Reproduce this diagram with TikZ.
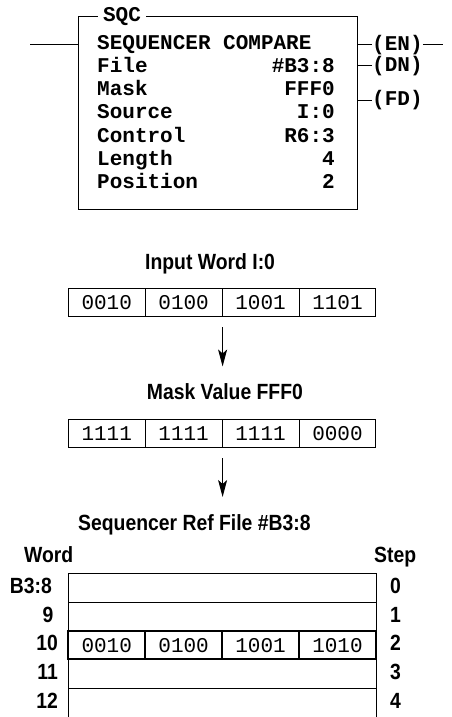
\documentclass[tikz,border=0pt]{standalone}
\usepackage{fontspec}
\usetikzlibrary{arrows.meta,positioning}
\newfontfamily\plcfont{Liberation Mono}
\newfontfamily\capfont[FakeStretch=0.88]{Liberation Sans}

\begin{document}
\begin{tikzpicture}[x=1pt, y=-1pt,
    plc/.style={inner sep=0pt, font=\plcfont\bfseries\fontsize{21}{25}\selectfont},
    hdtext/.style={inner sep=0pt, font=\capfont\bfseries\fontsize{22}{26}\selectfont},
    bit/.style={draw, line width=1pt, minimum width=76.9pt, minimum height=28.4pt, inner sep=0pt, font=\plcfont\fontsize{21}{25}\selectfont},
    rowbox/.style={minimum width=307.7pt, minimum height=28.75pt, inner sep=0pt},
    arr/.style={line width=1pt, -{Stealth[length=17pt, width=9pt, inset=4pt]}},
    wire/.style={line width=1pt}
]
    \useasboundingbox (0,0) rectangle (452,717);

    % Instruction block
    \node[draw, line width=1pt, minimum width=279pt, minimum height=192pt] (sqc) at (217.5,113) {};
    \node[plc, fill=white, inner xsep=5pt, inner ysep=2pt] (sqctitle) at (122,17) {SQC};
    \node[plc, anchor=base west] (instr) at (97,49.3) {SEQUENCER COMPARE};
    \foreach \lbl/\val [count=\i] in {File/\#B3:8, Mask/FFF0, Source/I:0, Control/R6:3, Length/4, Position/2} {
        \node[plc, anchor=base west] (lbl\i) at (97,49.3+23.23*\i) {\lbl};
        \node[plc, anchor=base east] (val\i) at (335,49.3+23.23*\i) {\val};
    }

    % Rung and output coils
    \coordinate (rungL) at (30,45);
    \coordinate (rungR) at (443,45);
    \draw[wire] (rungL) -- (rungL -| sqc.west);
    \node[plc, anchor=west] (en) at (372,45) {(EN)};
    \node[plc, anchor=west] (dn) at (372,65.7) {(DN)};
    \node[plc, anchor=west] (fd) at (372,100) {(FD)};
    \draw[wire] (sqc.east |- en.west) -- (en.west);
    \draw[wire] (en.east) -- (rungR);
    \draw[wire] (sqc.east |- dn.west) -- (dn.west);
    \draw[wire] (sqc.east |- fd.west) -- (fd.west);

    % Input word
    \node[hdtext, anchor=base west] (inputhd) at (145,269.3) {Input Word I:0};
    \foreach \b [count=\i] in {0010,0100,1001,1101}
        \node[bit] (in\i) at (29.85+76.9*\i,302.5) {\b};
    \draw[arr] ([yshift=-10pt]in2.south east) -- ([yshift=-49.3pt]in2.south east);

    % Mask value
    \node[hdtext, anchor=base west] (maskhd) at (146.7,399.3) {Mask Value FFF0};
    \foreach \b [count=\i] in {1111,1111,1111,0000}
        \node[bit] (mask\i) at (29.85+76.9*\i,433.3) {\b};
    \draw[arr] ([yshift=-10pt]mask2.south east) -- ([yshift=-49pt]mask2.south east);

    % Sequencer reference file
    \node[hdtext, anchor=base west] (filehd) at (78,530.5) {Sequencer Ref File \#B3:8};
    \node[hdtext, anchor=base west] (wordhd) at (24,562) {Word};
    \node[hdtext, anchor=base west] (stephd) at (374,562) {Step};
    \foreach \w/\wx/\s [count=\i from 0] in {B3:8/52/0, 9/53.5/1, 10/58/2, 11/58/3, 12/58/4} {
        \node[rowbox] (row\i) at (222.15,587.675+28.75*\i) {};
        \node[hdtext, anchor=east] (word\i) at (\wx,585.7+28.75*\i) {\w};
        \node[hdtext, anchor=west] (step\i) at (390,585.7+28.75*\i) {\s};
    }
    \draw[wire] (row4.south west) |- (row0.north east) -- (row4.south east);
    \foreach \i in {0,...,3}
        \draw[wire] (row\i.south west) -- (row\i.south east);
    \foreach \b [count=\i] in {0010,0100,1001,1010}
        \node[bit, line width=2.2pt, minimum height=28.3pt] (ref\i) at (29.85+76.9*\i,645.15) {\b};
\end{tikzpicture}
\end{document}
